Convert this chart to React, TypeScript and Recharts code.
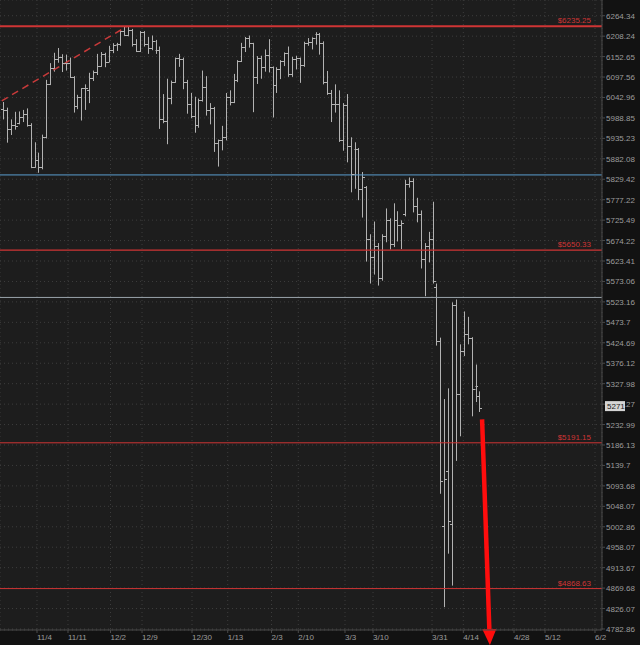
import React from "react";
import {
  ComposedChart,
  Bar,
  Scatter,
  XAxis,
  YAxis,
  CartesianGrid,
  ReferenceLine
} from "recharts";

// daily /ES bars, 10/22 .. 4/21 (one slot per session)
const opens = [
  6013, 6011, 5960, 5969, 5975, 5990, 6000, 5970, 5862, 5879, 5862, 5940, 6079, 6123, 6146, 6151,
  6134, 6135, 6099, 6021, 6044, 6067, 6062, 6094, 6112, 6127, 6161, 6139, 6170, 6183, 6186, 6222,
  6211, 6225, 6188, 6169, 6219, 6187, 6176, 6194, 6170, 5985, 5980, 6041, 6085, 6148, 6147, 6085,
  6025, 5995, 5969, 6035, 6070, 6009, 6015, 5922, 5930, 5938, 6045, 6032, 6089, 6140, 6178, 6204,
  6189, 6097, 6150, 6124, 6156, 6124, 6076, 6120, 6140, 6162, 6106, 6145, 6148, 6131, 6190, 6191,
  6203, 6215, 6190, 6085, 6054, 6025, 6026, 5930, 6023, 5916, 5843, 5908, 5804, 5810, 5677, 5634,
  5661, 5582, 5686, 5725, 5665, 5725, 5713, 5740, 5816, 5825, 5760, 5741, 5629, 5660, 5678, 5560,
  5430, 5005, 5127, 5008, 5515, 5303, 5405, 5445, 5436, 5316, 5300
];
const highs = [
  6031, 6016, 5985, 6005, 6006, 6010, 6014, 5975, 5925, 5898, 5945, 6090, 6135, 6163, 6176, 6159,
  6158, 6150, 6100, 6050, 6068, 6078, 6109, 6115, 6160, 6165, 6163, 6182, 6189, 6190, 6225, 6234,
  6235.25, 6228, 6200, 6222, 6222, 6206, 6210, 6198, 6180, 6052, 6093, 6088, 6150, 6160, 6150, 6090,
  6055, 6045, 6040, 6115, 6100, 6028, 6018, 5932, 5968, 6055, 6062, 6106, 6143, 6190, 6206, 6210,
  6190, 6154, 6155, 6172, 6200, 6126, 6124, 6143, 6164, 6180, 6152, 6155, 6150, 6193, 6203, 6205,
  6219, 6217, 6194, 6114, 6063, 6078, 6062, 6028, 6052, 5938, 5925, 5910, 5848, 5812, 5690, 5722,
  5668, 5690, 5755, 5730, 5768, 5748, 5725, 5828, 5834, 5832, 5782, 5750, 5668, 5696, 5772, 5568,
  5437, 5292, 5317, 5522, 5529, 5421, 5500, 5487, 5438, 5373, 5310
];
const lows = [
  5985, 5924, 5944, 5958, 5972, 5978, 5966, 5858, 5859, 5846, 5855, 5935, 6076, 6112, 6136, 6111,
  6115, 6095, 6003, 6012, 5982, 6010, 6028, 6087, 6103, 6125, 6124, 6138, 6162, 6168, 6182, 6209,
  6208, 6180, 6165, 6165, 6180, 6160, 6170, 6160, 5960, 5975, 5920, 6025, 6082, 6125, 6065, 6000,
  5988, 5950, 5963, 6032, 5995, 5972, 5900, 5862, 5904, 5930, 6022, 6028, 6084, 6138, 6165, 6177,
  6004, 6079, 6093, 6112, 6110, 5990, 6055, 6092, 6127, 6098, 6098, 6118, 6082, 6125, 6182, 6172,
  6185, 6158, 6078, 6050, 5978, 6003, 5926, 5903, 5873, 5796, 5805, 5776, 5732, 5622, 5568, 5590,
  5563, 5575, 5670, 5652, 5658, 5672, 5653, 5735, 5808, 5745, 5720, 5605, 5537, 5620, 5568, 5418,
  5076, 4829, 4944, 4875, 5150, 5206, 5393, 5421, 5252, 5285, 5262
];
const closes = [
  6011, 5960, 5969, 5968, 5990, 6000, 5970, 5862, 5879, 5862, 5940, 6079, 6123, 6146, 6151, 6134,
  6135, 6099, 6021, 6044, 6067, 6067, 6094, 6112, 6127, 6161, 6139, 6170, 6183, 6186, 6222, 6211,
  6225, 6188, 6169, 6219, 6187, 6176, 6194, 6170, 5985, 5980, 6041, 6085, 6148, 6147, 6085, 6025,
  5995, 5969, 6035, 6070, 6009, 6015, 5922, 5930, 5938, 6045, 6032, 6089, 6140, 6178, 6204, 6189,
  6097, 6150, 6124, 6156, 6124, 6076, 6120, 6140, 6162, 6106, 6145, 6148, 6131, 6190, 6191, 6203,
  6215, 6190, 6085, 6054, 6025, 6026, 5930, 6023, 5916, 5843, 5908, 5804, 5835, 5677, 5634, 5661,
  5582, 5686, 5725, 5665, 5725, 5713, 5718, 5816, 5825, 5760, 5741, 5629, 5660, 5678, 5575, 5430,
  5105, 5110, 5016, 5515, 5303, 5405, 5445, 5436, 5316, 5322, 5271
];

// date labels sit on slot positions of the weekly grid
const dateTicks = [8.64, 16.58, 27.47, 35.55, 48.36, 57.51, 68.73, 75.6, 87.57, 94.75, 109.87, 117.89, 130.88, 138.83, 151.64];
const dateLabels = ["11/4", "11/11", "12/2", "12/9", "12/30", "1/13", "2/3", "2/10", "3/3", "3/10", "3/31", "4/14", "4/28", "5/12", "6/2"];

const priceTicks = [
  6264.34, 6208.24, 6152.65, 6097.56, 6042.96, 5988.85, 5935.23, 5882.08, 5829.42, 5777.22, 5725.49,
  5674.22, 5623.41, 5573.06, 5523.16, 5473.7, 5424.69, 5376.12, 5327.98, 5280.27, 5232.99, 5186.13,
  5139.7, 5093.68, 5048.07, 5002.86, 4958.07, 4913.67, 4869.68, 4826.07, 4782.86
];

const redLevels = [6235.25, 5650.33, 5191.15, 4868.63];
const blueLevel = 5840.5;
const grayLevel = 5534;
const lastPrice = 5271;

const trendFrom = { i: -0.4, price: 6034 };
const trendTo = { i: 31.7, price: 6235.25 };
const arrowFrom = { i: 122.7, price: 5245 };
const arrowTo = { i: 124.7, price: 4749 };

const data = opens.map((o, i) => ({
  i,
  open: o,
  close: closes[i],
  range: [lows[i], highs[i]]
}));

const BAR = "#b2b2b2";
const RED = "#cf3535";
const AXIS_TEXT = "#9c9c9c";

const HighLow = (props: any) => {
  const {x, y, width, height} = props;
  const cx = Math.round(x + width / 2) + 0.5;
  const top = Math.min(y, y + height);
  const bot = Math.max(y, y + height);
  return <line x1={cx} x2={cx} y1={top} y2={bot} stroke={BAR} strokeWidth={1}/>;
};

const OpenTick = (props: any) => {
  const cx = Math.round(props.cx) + 0.5;
  const cy = Math.round(props.cy) + 0.5;
  return <line x1={cx - 2.5} x2={cx} y1={cy} y2={cy} stroke={BAR} strokeWidth={1}/>;
};

const CloseTick = (props: any) => {
  const cx = Math.round(props.cx) + 0.5;
  const cy = Math.round(props.cy) + 0.5;
  return <line x1={cx} x2={cx + 2.5} y1={cy} y2={cy} stroke={BAR} strokeWidth={1}/>;
};

const DateTick = (props: any) => {
  const {x, y, payload} = props;
  const idx = dateTicks.indexOf(payload.value);
  return (
    <text x={x} y={y + 7} fill={AXIS_TEXT} fontSize={8} textAnchor="start">
      {dateLabels[idx]}
    </text>
  );
};

// price ticks; the last-price box is painted over the 5280.27 tick as on the platform
const PriceTick = (props: any) => {
  const {x, y, payload} = props;
  const label = (
    <text x={x} y={y + 3} fill={AXIS_TEXT} fontSize={8} textAnchor="start">
      {payload.value}
    </text>
  );
  if (payload.value !== 5280.27) return label;
  return (
    <g>
      {label}
      <rect x={x - 1} y={y - 3} width={20} height={10} fill="#d4d4d4"/>
      <text x={x + 1} y={y + 5} fill="#1a1a1a" fontSize={8}>{lastPrice}</text>
    </g>
  );
};

const levelLabel = (text: string) => (props: any) => {
  const vb = props.viewBox;
  return (
    <text x={vb.x + vb.width - 11} y={vb.y - 3} fill={RED} fontSize={8} textAnchor="end">
      {text}
    </text>
  );
};

const Arrow = (props: any) => {
  const {x1, y1, x2, y2} = props;
  const dx = x2 - x1;
  const dy = y2 - y1;
  const len = Math.hypot(dx, dy);
  const ux = dx / len;
  const uy = dy / len;
  const bx = x2 - ux * 16;
  const by = y2 - uy * 16;
  const hw = 7;
  return (
    <g>
      <line x1={x1} y1={y1} x2={bx} y2={by} stroke="#ff0d0d" strokeWidth={4.5}/>
      <polygon
        points={`${x2},${y2} ${bx - uy * hw},${by + ux * hw} ${bx + uy * hw},${by - ux * hw}`}
        fill="#ff0d0d"
      />
    </g>
  );
};

export default function App() {
  return (
    <div style={{width: 640, height: 645, background: "#121212"}}>
      <style>{"body{margin:0;background:#121212}"}</style>
      <ComposedChart
        width={640}
        height={645}
        data={data}
        margin={{top: 0, right: 0, bottom: 0, left: 0}}
        style={{fontFamily: "'Liberation Sans', Arial, sans-serif"}}
      >
        <CartesianGrid stroke="#3d3d3d" strokeDasharray="1 3" fill="#1d1d1d"/>
        <XAxis
          type="number"
          dataKey="i"
          domain={[-0.846, 153.43]}
          ticks={dateTicks}
          interval={0}
          allowDataOverflow
          height={15}
          tickSize={3}
          tickMargin={0}
          stroke="#4a4a4a"
          tick={<DateTick/>}
        />
        <YAxis
          orientation="right"
          scale="log"
          domain={[4780.7, 6307.8]}
          ticks={priceTicks}
          interval={0}
          allowDataOverflow
          width={38}
          tickSize={3}
          tickMargin={1}
          stroke="#4a4a4a"
          tick={<PriceTick/>}
        />
        <ReferenceLine y={redLevels[0]} stroke={RED} strokeWidth={2} label={levelLabel("$6235.25")}/>
        <ReferenceLine y={blueLevel} stroke="#5b9fd0" strokeWidth={1}/>
        <ReferenceLine y={redLevels[1]} stroke={RED} strokeWidth={1.3} label={levelLabel("$5650.33")}/>
        <ReferenceLine y={grayLevel} stroke="#9aa3ab" strokeWidth={1}/>
        <ReferenceLine y={redLevels[2]} stroke={RED} strokeWidth={1} label={levelLabel("$5191.15")}/>
        <ReferenceLine y={redLevels[3]} stroke={RED} strokeWidth={1} label={levelLabel("$4868.63")}/>
        <ReferenceLine
          segment={[{x: trendFrom.i, y: trendFrom.price}, {x: trendTo.i, y: trendTo.price}]}
          stroke="#c83a3a"
          strokeWidth={1.5}
          strokeDasharray="7 5"
          ifOverflow="visible"
        />
        <Bar dataKey="range" barSize={2} shape={<HighLow/>} isAnimationActive={false}/>
        <Scatter dataKey="open" shape={<OpenTick/>} isAnimationActive={false}/>
        <Scatter dataKey="close" shape={<CloseTick/>} isAnimationActive={false}/>
        <ReferenceLine
          segment={[{x: arrowFrom.i, y: arrowFrom.price}, {x: arrowTo.i, y: arrowTo.price}]}
          ifOverflow="visible"
          shape={<Arrow/>}
        />
      </ComposedChart>
    </div>
  );
}
